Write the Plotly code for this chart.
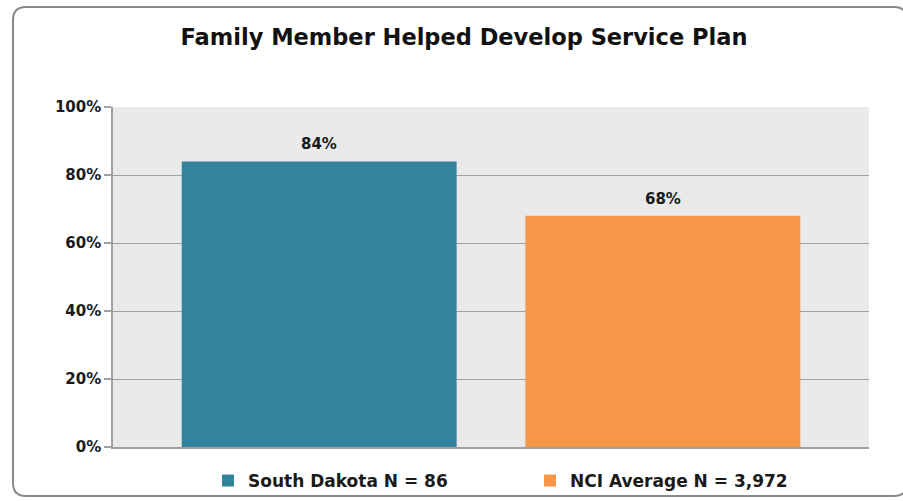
import plotly.graph_objects as go

title = "Family Member Helped Develop Service Plan"
series_names = ["South Dakota N = 86", "NCI Average N = 3,972"]
values = [84, 68]
labels = ["84%", "68%"]
colors = ["#31849B", "#F79646"]
yticks = [0, 20, 40, 60, 80, 100]
yticklabels = ["0%", "20%", "40%", "60%", "80%", "100%"]

FONT = "DejaVu Sans"
W, H = 903, 501
L, R, T, B = 113, 34, 107, 54
PW, PH = W - L - R, H - T - B

def px(X):
    return (X - L) / PW

def py(Y):
    return (H - B - Y) / PH

fig = go.Figure()
for name, v, c in zip(series_names, values, colors):
    fig.add_trace(go.Bar(
        x=[name], y=[v], name=name, width=0.8,
        marker=dict(color=c, line=dict(width=0)),
        hoverinfo="skip",
    ))

annotations = [
    dict(x=name, y=v, xref="x", yref="y", text=lab, showarrow=False,
         yanchor="bottom", yshift=6,
         font=dict(family=FONT, size=15, color="#1a1a1a", weight="bold"))
    for name, v, lab in zip(series_names, values, labels)
]

# rounded frame
x0, x1, y0, y1, r = 13, 907, 7, 496, 13
path = (f"M {px(x0+r)},{py(y0)} L {px(x1-r)},{py(y0)} Q {px(x1)},{py(y0)} {px(x1)},{py(y0+r)} "
        f"L {px(x1)},{py(y1-r)} Q {px(x1)},{py(y1)} {px(x1-r)},{py(y1)} "
        f"L {px(x0+r)},{py(y1)} Q {px(x0)},{py(y1)} {px(x0)},{py(y1-r)} "
        f"L {px(x0)},{py(y0+r)} Q {px(x0)},{py(y0)} {px(x0+r)},{py(y0)} Z")

fig.update_layout(
    width=W, height=H,
    margin=dict(l=L, r=R, t=T, b=B, autoexpand=False),
    paper_bgcolor="white", plot_bgcolor="#EAEAEA",
    barmode="overlay",
    title=dict(text=title, x=464 / W, xanchor="center", y=1 - 37 / H, yanchor="middle",
               font=dict(family=FONT, size=22.5, color="#111111", weight="bold")),
    xaxis=dict(type="category", range=[-0.6, 1.6], showticklabels=False, showgrid=False,
               zeroline=False, showline=True, fixedrange=True,
               linecolor="#A0A0A0", linewidth=1.5, ticks="", automargin=False),
    yaxis=dict(range=[0, 100], tickvals=yticks, ticktext=yticklabels, automargin=False,
               showgrid=True, gridcolor="#A0A0A0", gridwidth=1, zeroline=False,
               showline=True, linecolor="#A0A0A0", linewidth=1.5, fixedrange=True,
               ticks="outside", ticklen=7, tickcolor="#A0A0A0", tickwidth=1.5,
               tickfont=dict(family=FONT, size=15, color="#1a1a1a", weight="bold")),
    showlegend=True,
    legend=dict(orientation="h", x=px(208), xanchor="left", y=py(481), yanchor="middle",
                bgcolor="rgba(0,0,0,0)",
                font=dict(family=FONT, size=17, color="#1a1a1a", weight="bold"),
                entrywidth=277, entrywidthmode="pixels", traceorder="normal"),
    annotations=annotations,
    shapes=[dict(type="path", path=path, xref="paper", yref="paper",
                 line=dict(color="#8A8A8A", width=2), fillcolor="rgba(0,0,0,0)", layer="below")],
)

fig.write_html("out.html", config={"displayModeBar": False},
               post_script="document.body.style.margin='0';document.body.style.overflow='hidden';")
